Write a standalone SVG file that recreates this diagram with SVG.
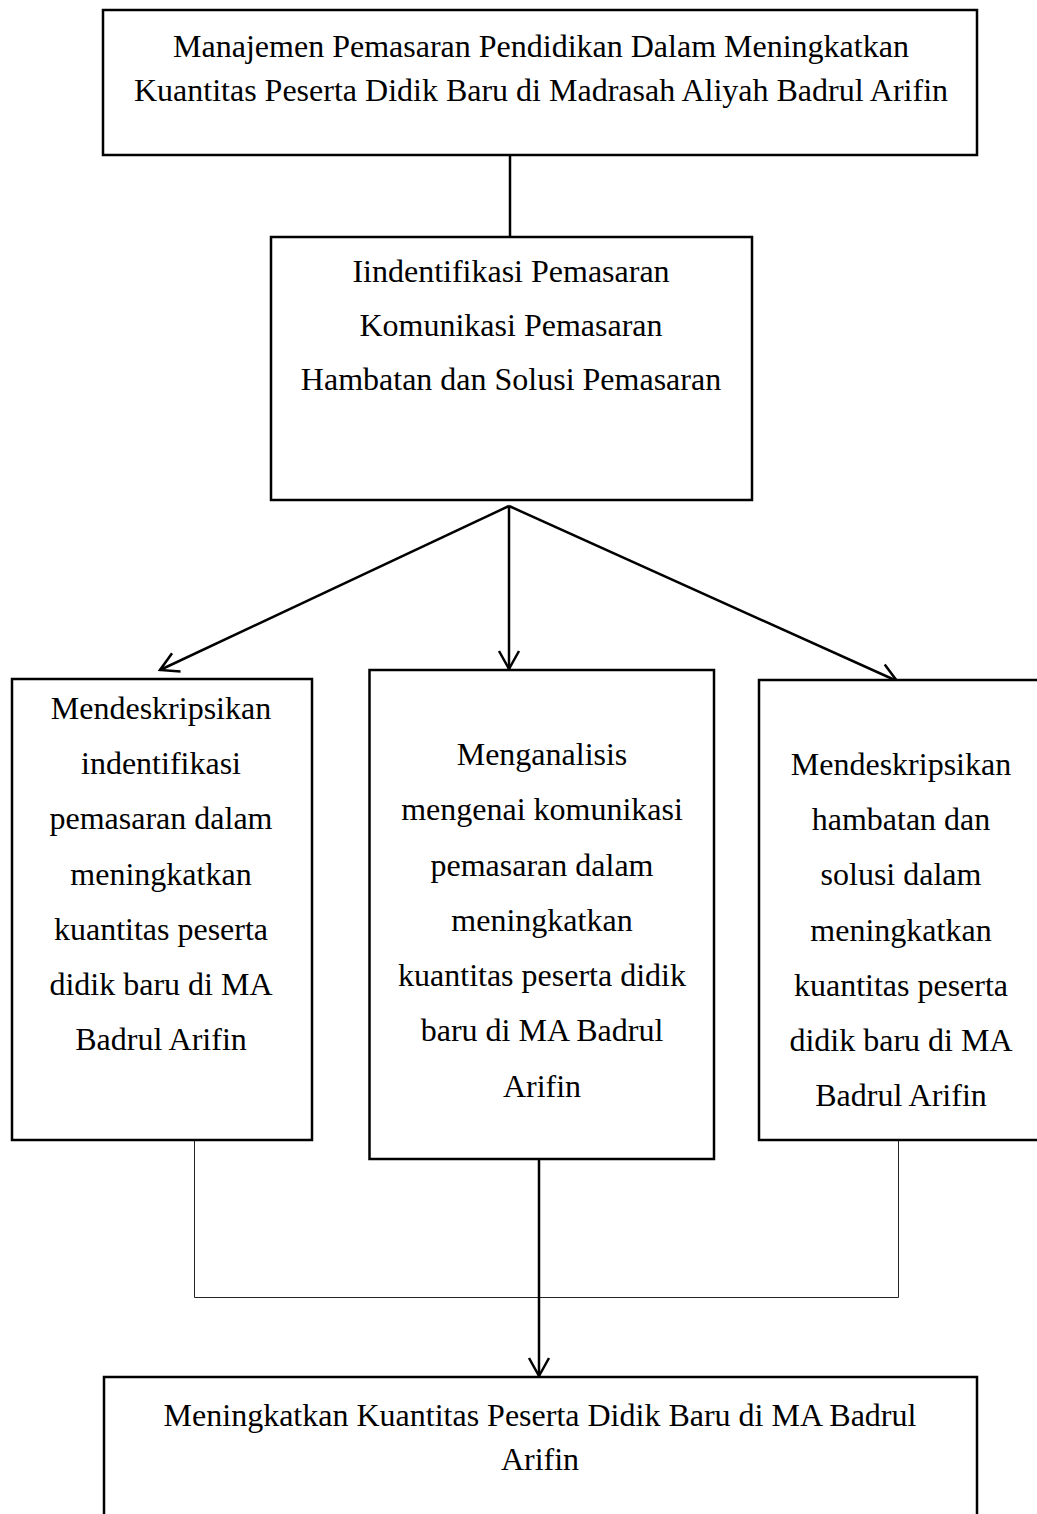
<svg xmlns="http://www.w3.org/2000/svg" width="1037" height="1514" viewBox="0 0 1037 1514">
<style>
.box{fill:#fff;stroke:#000;stroke-width:2.5}
.t{font-family:"Liberation Serif","Times New Roman",serif;font-size:32px;fill:#000;text-anchor:middle}
.c{fill:none;stroke:#000;stroke-width:2.5}
.thin{fill:none;stroke:#222;stroke-width:1}
</style>
<defs>
<marker id="ah" markerUnits="userSpaceOnUse" markerWidth="24" markerHeight="24" viewBox="0 0 24 24" refX="20" refY="12" orient="auto">
<path d="M2,2 L20,12 L2,22" fill="none" stroke="#000" stroke-width="2.5"/>
</marker>
</defs>
<rect width="1037" height="1514" fill="#fff"/>
<g id="connectors">
<line class="c" x1="510" y1="155" x2="510" y2="237"/>
<line class="c" x1="509" y1="506" x2="160" y2="670" marker-end="url(#ah)"/>
<line class="c" x1="509" y1="506" x2="509" y2="669" marker-end="url(#ah)"/>
<line class="c" x1="509" y1="506" x2="897" y2="681" marker-end="url(#ah)"/>
<polyline class="thin" points="194.5,1140 194.5,1297.5 898.5,1297.5 898.5,1140"/>
<line class="c" x1="539" y1="1160" x2="539" y2="1376" marker-end="url(#ah)"/>
</g>
<g id="top">
<rect class="box" x="103" y="10" width="874" height="145"/>
<text class="t" x="541" y="57">Manajemen Pemasaran Pendidikan Dalam Meningkatkan</text>
<text class="t" x="541" y="101">Kuantitas Peserta Didik Baru di Madrasah Aliyah Badrul Arifin</text>
</g>
<g id="focus">
<rect class="box" x="271" y="237" width="481" height="263"/>
<text class="t" x="511" y="282">Iindentifikasi Pemasaran</text>
<text class="t" x="511" y="336">Komunikasi Pemasaran</text>
<text class="t" x="511" y="390">Hambatan dan Solusi Pemasaran</text>
</g>
<g id="left">
<rect class="box" x="12" y="679" width="300" height="461"/>
<text class="t" x="161" y="719">Mendeskripsikan</text>
<text class="t" x="161" y="774">indentifikasi</text>
<text class="t" x="161" y="829">pemasaran dalam</text>
<text class="t" x="161" y="885">meningkatkan</text>
<text class="t" x="161" y="940">kuantitas peserta</text>
<text class="t" x="161" y="995">didik baru di MA</text>
<text class="t" x="161" y="1050">Badrul Arifin</text>
</g>
<g id="middle">
<rect class="box" x="369.5" y="670" width="344.5" height="489"/>
<text class="t" x="542" y="765">Menganalisis</text>
<text class="t" x="542" y="820">mengenai komunikasi</text>
<text class="t" x="542" y="876">pemasaran dalam</text>
<text class="t" x="542" y="931">meningkatkan</text>
<text class="t" x="542" y="986">kuantitas peserta didik</text>
<text class="t" x="542" y="1041">baru di MA Badrul</text>
<text class="t" x="542" y="1097">Arifin</text>
</g>
<g id="right">
<rect class="box" x="759" y="680" width="290" height="460"/>
<text class="t" x="901" y="775">Mendeskripsikan</text>
<text class="t" x="901" y="830">hambatan dan</text>
<text class="t" x="901" y="885">solusi dalam</text>
<text class="t" x="901" y="941">meningkatkan</text>
<text class="t" x="901" y="996">kuantitas peserta</text>
<text class="t" x="901" y="1051">didik baru di MA</text>
<text class="t" x="901" y="1106">Badrul Arifin</text>
</g>
<g id="bottom">
<rect class="box" x="104" y="1377" width="873" height="200"/>
<text class="t" x="540" y="1426">Meningkatkan Kuantitas Peserta Didik Baru di MA Badrul</text>
<text class="t" x="540" y="1470">Arifin</text>
</g>
</svg>
